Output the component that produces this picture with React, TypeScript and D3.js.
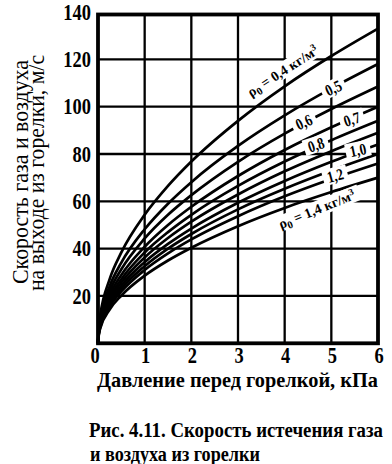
import React from 'react';
import * as d3 from 'd3';

// Pressure before burner, kPa (sample points)
const pressures = [0, 0.02, 0.05, 0.25, 0.5, 1, 1.5, 2, 3, 4, 5, 6];
// Densities ρ0, kg/m³ (one curve each)
const densities = [0.4, 0.5, 0.6, 0.7, 0.8, 0.9, 1.0, 1.1, 1.2, 1.4];
// Outflow velocity, m/s, read at each pressure above
const v04 = [0, 7.7, 12.1, 27.1, 38.4, 54.3, 66.5, 76.8, 94.0, 108.6, 121.4, 133];
const v05 = [0, 6.8, 10.8, 24.1, 34.1, 48.2, 59.0, 68.1, 83.4, 96.3, 107.7, 118];
const v06 = [0, 6.3, 9.9, 22.1, 31.3, 44.3, 54.3, 62.6, 76.7, 88.6, 99.0, 108.5];
const v07 = [0, 5.8, 9.1, 20.4, 28.9, 40.8, 50.0, 57.7, 70.7, 81.7, 91.3, 100];
const v08 = [0, 5.4, 8.6, 19.2, 27.1, 38.4, 47.0, 54.3, 66.5, 76.8, 85.8, 94];
const v09 = [0, 5.1, 8.1, 18.2, 25.7, 36.3, 44.5, 51.4, 62.9, 72.7, 81.2, 89];
const v10 = [0, 4.8, 7.7, 17.1, 24.3, 34.3, 42.0, 48.5, 59.4, 68.6, 76.7, 84];
const v11 = [0, 4.6, 7.3, 16.3, 23.1, 32.6, 40.0, 46.2, 56.6, 65.3, 73.0, 80];
const v12 = [0, 4.4, 6.9, 15.5, 21.9, 31.0, 38.0, 43.9, 53.7, 62.1, 69.4, 76];
const v14 = [0, 4.0, 6.4, 14.3, 20.2, 28.6, 35.0, 40.4, 49.5, 57.2, 63.9, 70];
const velocitySeries = [v04, v05, v06, v07, v08, v09, v10, v11, v12, v14];

const xTicks = [0, 1, 2, 3, 4, 5, 6];
const yTicks = [20, 40, 60, 80, 100, 120, 140];

// Curve labels: text, position in data units (kPa, m/s), rotation
const curveLabels = [
  { text: '0,5', p: 5.04, v: 108.0, angle: -25 },
  { text: '0,6', p: 4.41, v: 93.6, angle: -25 },
  { text: '0,7', p: 5.44, v: 94.8, angle: -18 },
  { text: '0,8', p: 4.67, v: 84.0, angle: -18 },
  { text: '1,0', p: 5.57, v: 81.8, angle: -12 },
  { text: '1,2', p: 5.08, v: 71.0, angle: -15 },
];
const rhoLabels = [
  { value: '0,4', p: 3.96, v: 115.0, angle: -33 },
  { value: '1,4', p: 4.69, v: 56.5, angle: -22 },
];

const yTitle1 = 'Скорость газа и воздуха';
const yTitle2 = 'на выходе из горелки, м/с';
const xTitle = 'Давление перед горелкой, кПа';
const caption1 = 'Рис. 4.11. Скорость истечения газа';
const caption2 = 'и воздуха из горелки';

const SERIF = '"Liberation Serif", "Times New Roman", "DejaVu Serif", serif';

export default function App() {
  const W = 392;
  const H = 464;
  const x = d3.scaleLinear().domain([0, 6]).range([98, 378]);
  const y = d3.scaleLinear().domain([0, 140]).range([343.3, 12]);
  const plotTop = 14.5;

  const line = d3
    .line<number>()
    .x((_, i) => x(pressures[i]))
    .y((d) => y(d))
    .curve(d3.curveMonotoneX);

  return (
    <svg width={W} height={H} style={{ position: 'absolute', left: 0, top: 0, background: '#fff' }}>
      <rect x={0} y={0} width={W} height={H} fill="#fff" />
      {/* grid */}
      {yTicks.slice(0, -1).map((t) => (
        <line key={'h' + t} x1={x(0)} x2={x(6)} y1={y(t)} y2={y(t)} stroke="#000" strokeWidth={2.3} />
      ))}
      {xTicks.slice(1, -1).map((t) => (
        <line key={'v' + t} x1={x(t)} x2={x(t)} y1={plotTop} y2={y(0)} stroke="#000" strokeWidth={2.3} />
      ))}
      {/* curves */}
      {velocitySeries.map((s, i) => (
        <path key={'c' + densities[i]} d={line(s) || ''} fill="none" stroke="#000" strokeWidth={2.7} />
      ))}
      {/* short curve labels with white gaps */}
      {curveLabels.map((l) => (
        <g key={l.text} transform={`translate(${x(l.p)},${y(l.v)}) rotate(${l.angle})`}>
          <rect x={-12.5} y={-8} width={25} height={16} fill="#fff" />
          <text
            transform="scale(0.85,1.05)"
            textAnchor="middle"
            dy="0.36em"
            fontFamily={SERIF}
            fontWeight="bold"
            fontSize={15.5}
          >
            {l.text}
          </text>
        </g>
      ))}
      {rhoLabels.map((l) => (
        <g key={l.value} transform={`translate(${x(l.p)},${y(l.v)}) rotate(${l.angle})`}>
          <rect x={-46} y={-8.5} width={92} height={16} fill="#fff" />
          <text textAnchor="middle" dy="0.33em" fontFamily={SERIF} fontWeight="bold" fontSize={14}>
            <tspan>ρ</tspan>
            <tspan dy={3} fontSize={10.5}>0</tspan>
            <tspan dy={-3}>{` = ${l.value} кг/м`}</tspan>
            <tspan dy={-5} fontSize={9.5}>3</tspan>
          </text>
        </g>
      ))}
      {/* frame */}
      <rect
        x={x(0)}
        y={plotTop}
        width={x(6) - x(0)}
        height={y(0) - plotTop}
        fill="none"
        stroke="#000"
        strokeWidth={3.8}
      />
      {/* y tick labels */}
      {yTicks.map((t) => (
        <text
          key={'yl' + t}
          transform={`translate(91,${y(t) + 7.6}) scale(0.82,1)`}
          textAnchor="end"
          fontFamily={SERIF}
          fontWeight="bold"
          fontSize={22.5}
        >
          {t}
        </text>
      ))}
      {/* x tick labels */}
      {xTicks.map((t) => (
        <text
          key={'xl' + t}
          transform={`translate(${x(t) + (t === 0 ? -3 : 1)},362.5) scale(0.82,1)`}
          textAnchor="middle"
          fontFamily={SERIF}
          fontWeight="bold"
          fontSize={22.5}
        >
          {t}
        </text>
      ))}
      {/* axis titles */}
      <text
        transform="translate(97,387) scale(1,1.1)"
        fontFamily={SERIF}
        fontWeight="bold"
        fontSize={20}
        textLength={281}
        lengthAdjust="spacingAndGlyphs"
      >
        {xTitle}
      </text>
      <text
        transform="translate(27.5,284) rotate(-90)"
        fontFamily={SERIF}
        fontSize={23}
        textLength={224}
        lengthAdjust="spacingAndGlyphs"
      >
        {yTitle1}
      </text>
      <text
        transform="translate(43.5,291) rotate(-90)"
        fontFamily={SERIF}
        fontSize={23}
        textLength={236}
        lengthAdjust="spacingAndGlyphs"
      >
        {yTitle2}
      </text>
      {/* caption */}
      <text
        transform="translate(89,437) scale(1,1.1)"
        fontFamily={SERIF}
        fontWeight="bold"
        fontSize={19}
        textLength={294}
        lengthAdjust="spacingAndGlyphs"
      >
        {caption1}
      </text>
      <text
        transform="translate(90,460.5) scale(1,1.1)"
        fontFamily={SERIF}
        fontWeight="bold"
        fontSize={19}
        textLength={170}
        lengthAdjust="spacingAndGlyphs"
      >
        {caption2}
      </text>
    </svg>
  );
}
